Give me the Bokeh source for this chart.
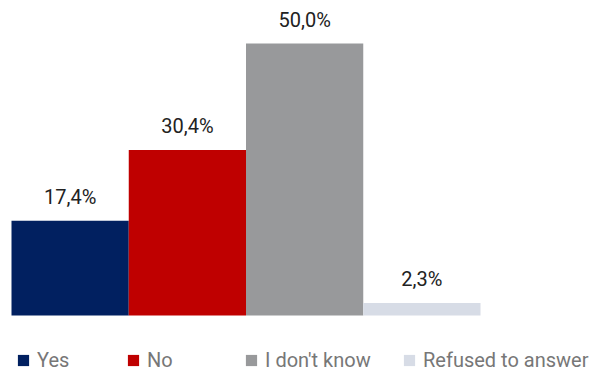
from bokeh.plotting import figure
from bokeh.models import ColumnDataSource, Legend, LegendItem, Range1d
from bokeh.core.properties import value
from bokeh.embed import file_html
from bokeh.resources import INLINE

categories = ["Yes", "No", "I don't know", "Refused to answer"]
shares = [17.4, 30.4, 50.0, 2.3]
colors = ["#012060", "#BF0000", "#98999B", "#D7DCE6"]
labels = [f"{v:.1f}".replace(".", ",") + "%" for v in shares]

W, H = 598, 372
src = ColumnDataSource(dict(
    x=[i + 0.5 for i in range(len(categories))],
    top=shares,
    color=colors,
    label=labels,
    cat=categories,
))

slot = 117.25
x0 = -11 / slot
px_per_unit = 5.44
base = 315
p = figure(width=W, height=H, output_backend="svg", toolbar_location=None,
           x_range=Range1d(x0, x0 + W / slot),
           y_range=Range1d(-(H - base) / px_per_unit, base / px_per_unit),
           min_border=0, outline_line_color=None)
p.axis.visible = False
p.grid.visible = False
p.background_fill_color = "white"

r = p.vbar(x="x", top="top", bottom=0, width=1.0, fill_color="color",
           line_color=None, source=src)
p.text(x="x", y="top", text="label", source=src, text_align="center",
       text_baseline="alphabetic", y_offset=-24, text_font=value("Roboto"),
       text_font_size="20px", text_color="#222222")

leg_x = [16, 126, 244, 402]
for i, c in enumerate(categories):
    lg = Legend(items=[LegendItem(label=c, renderers=[r], index=i)],
                location=(leg_x[i], 0), orientation="horizontal",
                padding=0, margin=0, spacing=0, border_line_color=None,
                background_fill_alpha=0, glyph_width=14, glyph_height=14,
                label_standoff=7, label_text_font="Roboto",
                label_text_font_size="20px", label_text_color="#777777",
                label_height=14)
    p.add_layout(lg)

open("out.html", "w").write(file_html(p, INLINE))
